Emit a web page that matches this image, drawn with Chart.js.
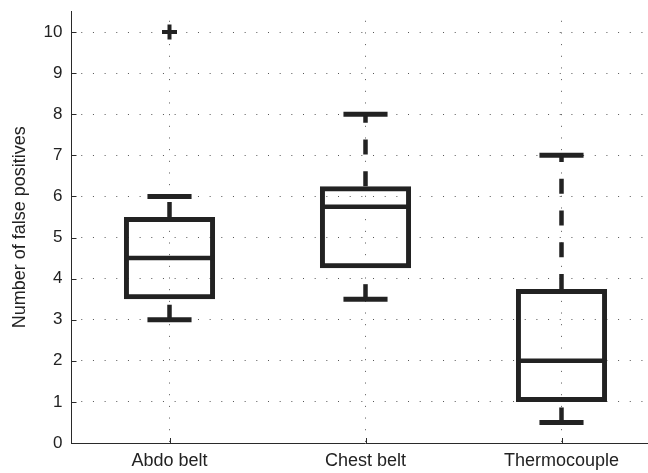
<!DOCTYPE html>
<html>
<head>
<meta charset="utf-8">
<title>False positives per sensor</title>
<script src="https://cdn.jsdelivr.net/npm/chart.js@4/dist/chart.umd.min.js"></script>
<style>
  html,body{margin:0;padding:0;background:#fff;overflow:hidden}
  #wrap{width:648px;height:473px;overflow:hidden}
</style>
</head>
<body>
<div id="wrap"><canvas id="boxChart" width="671" height="473"></canvas></div>
<script>
/* ── DATA ───────────────────────────────────────────────── */
const sensors   = ['Abdo belt','Chest belt','Thermocouple'];
const lowWhisk  = [3,   3.5,  0.5];
const quart1    = [3.5, 4.25, 1];
const medians   = [4.5, 5.75, 2];
const quart3    = [5.5, 6.25, 3.75];
const highWhisk = [6,   8,    7];
const outliers  = [10,  null, null];
const yTicks    = [0,1,2,3,4,5,6,7,8,9,10];

/* ── LOOK ───────────────────────────────────────────────── */
const INK   = '#222';
const AXIS  = '#2a2a2a';
const DOTS  = '#555';
const FONT  = '"Liberation Sans", Arial, Helvetica, sans-serif';

/* medians, dashed whiskers, caps and inward tick marks */
const boxParts = {
  id:'boxParts',
  afterDatasetsDraw(chart){
    const {ctx, chartArea:a} = chart;
    const x = chart.scales.x, y = chart.scales.y;
    const step = x.getPixelForValue(1) - x.getPixelForValue(0);
    const half = step*0.23, cap = step*0.1125;
    const seg = (x1,y1,x2,y2)=>{ ctx.beginPath(); ctx.moveTo(x1,y1); ctx.lineTo(x2,y2); ctx.stroke(); };

    ctx.save();
    ctx.strokeStyle = INK;
    ctx.lineCap = 'butt';
    sensors.forEach((s,i)=>{
      const cx = x.getPixelForValue(i);
      const pMed = y.getPixelForValue(medians[i]);
      const pQ1  = y.getPixelForValue(quart1[i]);
      const pQ3  = y.getPixelForValue(quart3[i]);
      const pLo  = y.getPixelForValue(lowWhisk[i]);
      const pHi  = y.getPixelForValue(highWhisk[i]);

      ctx.setLineDash([]);
      ctx.lineWidth = 4.5;
      seg(cx-half, pMed, cx+half, pMed);

      ctx.setLineDash([15,16.7]);
      seg(cx, pQ3, cx, pHi);
      seg(cx, pLo, cx, pQ1);

      ctx.setLineDash([]);
      ctx.lineWidth = 5;
      seg(cx-cap, pHi, cx+cap, pHi);
      seg(cx-cap, pLo, cx+cap, pLo);
    });

    ctx.strokeStyle = AXIS;
    ctx.lineWidth = 1;
    yTicks.forEach(v=>{
      const py = Math.round(y.getPixelForValue(v)) + 0.5;
      seg(a.left, py, a.left+5, py);
    });
    sensors.forEach((s,i)=>{
      const px = Math.round(x.getPixelForValue(i)) + 0.5;
      seg(px, a.bottom, px, a.bottom-5);
    });
    ctx.restore();
  }
};

/* ── CHART ──────────────────────────────────────────────── */
new Chart(document.getElementById('boxChart'), {
  type:'bar',
  data:{
    labels:sensors,
    datasets:[
      { type:'bar', label:'IQR',
        data:sensors.map((s,i)=>[quart1[i], quart3[i]]),
        backgroundColor:'rgba(0,0,0,0)', borderColor:INK, borderWidth:5,
        borderSkipped:false, barPercentage:0.465, categoryPercentage:1 },
      { type:'line', label:'Outliers', data:outliers, showLine:false,
        pointStyle:'cross', pointRadius:7.5, pointBorderWidth:4,
        pointBorderColor:INK, pointBackgroundColor:INK }
    ]
  },
  options:{
    responsive:false, animation:false,
    layout:{padding:{top:11, right:3, left:0, bottom:0}},
    plugins:{legend:{display:false}, tooltip:{enabled:false}},
    scales:{
      x:{
        offset:true,
        grid:{offset:false, color:DOTS, lineWidth:1, drawTicks:false},
        border:{display:true, color:AXIS, width:1, dash:[1,10.67], dashOffset:2.4},
        ticks:{padding:7, color:INK, font:{family:FONT, size:18}},
        afterFit:s=>{ s.height = 30; s.paddingLeft = 0; s.paddingRight = 0; }
      },
      y:{
        min:0, max:10.5,
        grid:{color:DOTS, lineWidth:1, drawTicks:false},
        border:{display:true, color:AXIS, width:1, dash:[1,10.67], dashOffset:2.4},
        ticks:{padding:9, color:INK, font:{family:FONT, size:17}},
        title:{display:true, text:'Number of false positives', color:INK,
               font:{family:FONT, size:18}, padding:{top:9, bottom:0}},
        afterBuildTicks:s=>{ s.ticks = yTicks.map(v=>({value:v})); },
        afterFit:s=>{ s.width = 71.5; s.paddingTop = 0; s.paddingBottom = 0; }
      }
    }
  },
  plugins:[boxParts]
});
</script>
</body>
</html>
